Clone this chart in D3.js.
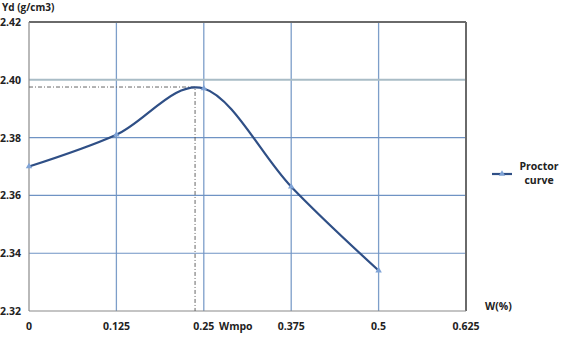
<!DOCTYPE html>
<html><head><meta charset="utf-8">
<script src="https://cdn.jsdelivr.net/npm/d3@7"></script>
<style>body{margin:0;background:#fff}svg{display:block}text{font-family:"Open Sans","Liberation Sans",sans-serif;font-weight:bold;fill:#222}</style>
</head><body><svg id="c" width="567" height="338"></svg>
<script>
const xValues = [0, 0.125, 0.25, 0.375, 0.5];
const yValues = [2.370, 2.381, 2.397, 2.363, 2.334];
const xTicks = [0, 0.125, 0.25, 0.375, 0.5, 0.625];
const xTickLabels = ["0", "0.125", "0.25", "0.375", "0.5", "0.625"];
const yTicks = [2.32, 2.34, 2.36, 2.38, 2.40, 2.42];
const yTickLabels = ["2.32", "2.34", "2.36", "2.38", "2.40", "2.42"];
const optimum = {w: 0.2375, yd: 2.3975};
const seriesName = ["Proctor", "curve"];

const svg = d3.select("#c");
const x = d3.scaleLinear().domain([0, 0.625]).range([29, 466]);
const y = d3.scaleLinear().domain([2.32, 2.42]).range([311, 22]);

svg.append("g").selectAll("line").data(xTicks.slice(1, -1)).join("line")
  .attr("x1", d => x(d)).attr("x2", d => x(d)).attr("y1", y(2.42)).attr("y2", y(2.32))
  .attr("stroke", "#7d9ec9").attr("stroke-width", 1.3);
svg.append("g").selectAll("line").data(yTicks.slice(1, -1)).join("line")
  .attr("x1", x(0)).attr("x2", x(0.625)).attr("y1", d => y(d)).attr("y2", d => y(d))
  .attr("stroke", d => Math.abs(d - 2.40) < 1e-9 ? "#a9bcc6" : "#6f93c4")
  .attr("stroke-width", d => Math.abs(d - 2.40) < 1e-9 ? 2 : 1.1);
svg.append("line").attr("x1", x(0)).attr("x2", x(0.625)).attr("y1", y(2.42)).attr("y2", y(2.42)).attr("stroke", "#6a6a6a").attr("stroke-width", 2);
svg.append("line").attr("x1", x(0.625)).attr("x2", x(0.625)).attr("y1", y(2.42)).attr("y2", y(2.32)).attr("stroke", "#6a6a6a").attr("stroke-width", 2);
svg.append("line").attr("x1", x(0)).attr("x2", x(0)).attr("y1", y(2.42)).attr("y2", y(2.32)).attr("stroke", "#8a8a8a").attr("stroke-width", 1.2);
svg.append("line").attr("x1", x(0)).attr("x2", x(0.625)).attr("y1", y(2.32)).attr("y2", y(2.32)).attr("stroke", "#8a8a8a").attr("stroke-width", 1.2);

svg.append("g").selectAll("text").data(yTicks).join("text")
  .attr("x", 21).attr("y", d => y(d) + 4).attr("text-anchor", "end").attr("font-size", 10.5)
  .text((d, i) => yTickLabels[i]);
svg.append("g").selectAll("text").data(xTicks).join("text")
  .attr("x", d => x(d)).attr("y", 330).attr("text-anchor", "middle").attr("font-size", 10.5)
  .text((d, i) => xTickLabels[i]);

svg.append("text").attr("x", 2).attr("y", 11).attr("font-size", 10).text("Yd (g/cm3)");
svg.append("text").attr("x", 485).attr("y", 310).attr("font-size", 10.5).text("W(%)");
svg.append("text").attr("x", 219).attr("y", 330).attr("font-size", 10.5).text("Wmpo");

svg.append("path")
  .attr("d", `M${x(0)},${y(optimum.yd)}H${x(optimum.w)}V${y(2.32)}`)
  .attr("fill", "none").attr("stroke", "#555").attr("stroke-width", 0.9).attr("stroke-dasharray", "4,2,1,2");

const pts = xValues.map((v, i) => [v, yValues[i]]);
const line = d3.line().x(d => x(d[0])).y(d => y(d[1])).curve(d3.curveCardinal.tension(0));
svg.append("path").attr("d", line(pts)).attr("fill", "none").attr("stroke", "#2f4f86").attr("stroke-width", 2.2);
const tri = d3.symbol().type(d3.symbolTriangle).size(18);
svg.append("g").selectAll("path").data(pts).join("path")
  .attr("transform", d => `translate(${x(d[0])},${y(d[1])})`).attr("d", tri).attr("fill", "#7fa3d6");

svg.append("line").attr("x1", 492).attr("x2", 512).attr("y1", 174).attr("y2", 174).attr("stroke", "#2f4f86").attr("stroke-width", 2.2);
svg.append("path").attr("transform", "translate(502,174)").attr("d", tri).attr("fill", "#7fa3d6");
svg.append("g").selectAll("text").data(seriesName).join("text")
  .attr("x", 539).attr("y", (d, i) => 170 + i * 14).attr("text-anchor", "middle").attr("font-size", 10.5)
  .text(d => d);
</script></body></html>
